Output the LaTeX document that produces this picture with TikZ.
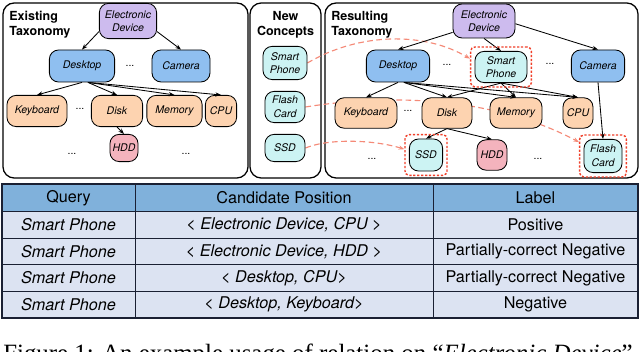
\documentclass[tikz,border=0pt]{standalone}
\usepackage{fontspec}
\setmainfont{Liberation Serif}
\setsansfont{TeX Gyre Heros}
\usetikzlibrary{arrows.meta,fit}

\definecolor{rootpurple}{HTML}{CDBBEE}
\definecolor{midblue}{HTML}{8FBFF0}
\definecolor{leaforange}{HTML}{FDD3B0}
\definecolor{hddpink}{HTML}{F4B3BD}
\definecolor{newcyan}{HTML}{CCF3F3}
\definecolor{linksalmon}{HTML}{F58A78}
\definecolor{boxred}{HTML}{F0402A}
\definecolor{headblue}{HTML}{80B1DB}
\definecolor{rowblue}{HTML}{DCE3F2}
\definecolor{gridnavy}{HTML}{1A2033}

\pgfdeclarelayer{panels}
\pgfdeclarelayer{links}
\pgfsetlayers{panels,links,main}

\begin{document}
\begin{tikzpicture}[
    x=0.025cm, y=-0.025cm,
    >={Stealth[length=4pt,width=3pt]},
    concept/.style={rectangle, rounded corners=6.5pt, draw=black, line width=0.6pt, inner sep=1pt, minimum height=0.8cm, align=center, font=\sffamily\itshape\fontsize{7.5}{9.6}\selectfont},
    root/.style={concept, fill=rootpurple},
    mid/.style={concept, fill=midblue},
    leaf/.style={concept, fill=leaforange},
    hdd/.style={concept, fill=hddpink},
    newc/.style={concept, fill=newcyan},
    panel/.style={rectangle, rounded corners=8pt, draw=black, line width=0.9pt, fill=white, minimum height=4.375cm},
    title/.style={font=\sffamily\bfseries\fontsize{8.9}{10.6}\selectfont, align=left, inner sep=0pt},
    gap/.style={font=\sffamily\fontsize{7.5}{9}\selectfont, inner sep=0pt},
    arrow/.style={->, line width=0.6pt, color=black},
    link/.style={->, dash pattern=on 4pt off 2.5pt, line width=0.8pt, color=linksalmon},
    newbox/.style={rectangle, rounded corners=3pt, draw=boxred, dash pattern=on 1.6pt off 1.2pt, line width=1pt, inner sep=2.8pt},
    cell/.style={font=\sffamily\fontsize{11.5}{13}\selectfont, inner sep=0pt}
]

\clip (0,0) rectangle (640,352);

% Three panels behind everything
\begin{pgfonlayer}{panels}
    \node[panel, minimum width=6.125cm] (existing-bg) at (125.5,90.5) {};
    \node[panel, minimum width=1.775cm] (concepts-bg) at (285.5,90.5) {};
    \node[panel, minimum width=7.825cm] (resulting-bg) at (481.5,90.5) {};
\end{pgfonlayer}

% Panel titles
\node[title, anchor=north west] (existing-title) at (9,11) {Existing\\Taxonomy};
\node[title, align=center, anchor=north] (concepts-title) at (285.5,11) {New\\Concepts};
\node[title, anchor=north west] (resulting-title) at (331,11) {Resulting\\Taxonomy};

% Existing taxonomy
\node[root, minimum width=1.43cm, minimum height=0.88cm] (l-root) at (128,21) {Electronic\\Device};
\node[mid, minimum width=1.63cm] (l-desk) at (82,66) {Desktop};
\node[mid, minimum width=1.45cm] (l-cam) at (181,66) {Camera};
\node[leaf, minimum width=1.5cm, minimum height=0.78cm] (l-key) at (37,111) {Keyboard};
\node[leaf, minimum width=1.28cm, minimum height=0.78cm] (l-disk) at (117,111) {Disk};
\node[leaf, minimum width=1.38cm, minimum height=0.78cm] (l-mem) at (174.5,111) {Memory};
\node[leaf, minimum width=0.78cm, minimum height=0.78cm] (l-cpu) at (221,111) {CPU};
\node[hdd, minimum width=0.7cm, minimum height=0.68cm] (l-hdd) at (124,148) {HDD};

\node[gap] (l-dots1) at (130,66) {...};
\node[gap] (l-dots2) at (80,109) {...};
\node[gap] (l-dots3) at (72,154) {...};
\node[gap] (l-dots4) at (186,154) {...};

\draw[arrow] (l-root.200) -- (l-desk.north);
\draw[arrow] (l-root.-20) -- (l-cam.north);
\draw[arrow] (l-desk.south) -- (l-key.north);
\draw[arrow] (l-desk.-70) -- (l-disk.north);
\draw[arrow] (l-desk.-70) -- (l-mem.north);
\draw[arrow] (l-desk.-70) -- (l-cpu.north);
\draw[arrow] (l-disk.south) -- (l-hdd.north);

% New concepts
\node[newc, minimum width=1.1cm, minimum height=0.83cm] (n-phone) at (285,63) {Smart\\Phone};
\node[newc, minimum width=1.0cm, minimum height=0.78cm] (n-flash) at (285,107) {Flash\\Card};
\node[newc, minimum width=1.0cm, minimum height=0.68cm] (n-ssd) at (285,148) {SSD};

% Resulting taxonomy
\node[root, minimum width=1.55cm, minimum height=0.85cm] (r-root) at (484,21) {Electronic\\Device};
\node[mid, minimum width=1.58cm] (r-desk) at (398,66) {Desktop};
\node[newc, minimum width=1.3cm, minimum height=0.78cm] (r-phone) at (501,67) {Smart\\Phone};
\node[mid, minimum width=1.33cm] (r-cam) at (598,66) {Camera};
\node[leaf, minimum width=1.55cm, minimum height=0.76cm] (r-key) at (366,113) {Keyboard};
\node[leaf, minimum width=1.25cm, minimum height=0.76cm] (r-disk) at (447,113) {Disk};
\node[leaf, minimum width=1.3cm, minimum height=0.76cm] (r-mem) at (516,113) {Memory};
\node[leaf, minimum width=0.75cm, minimum height=0.76cm] (r-cpu) at (578,113) {CPU};
\node[newc, minimum width=0.83cm] (r-ssd) at (426,155) {SSD};
\node[hdd, minimum width=0.75cm, minimum height=0.76cm] (r-hdd) at (492,155) {HDD};
\node[newc, minimum width=0.95cm, minimum height=0.83cm] (r-flash) at (603,156) {Flash\\Card};

\node[gap] (r-dots1) at (447,65) {...};
\node[gap] (r-dots2) at (550,64) {...};
\node[gap] (r-dots3) at (408,111) {...};
\node[gap] (r-dots4) at (372,159) {...};
\node[gap] (r-dots5) at (538,159) {...};

\draw[arrow] (r-root.200) -- (r-desk.north);
\draw[arrow] (r-root.south) -- (r-phone.north);
\draw[arrow] (r-root.-5) -- (r-cam.north);
\draw[arrow] (r-desk.south) -- (r-key.north);
\draw[arrow] (r-desk.-70) -- (r-disk.north);
\draw[arrow] (r-desk.-70) -- (r-mem.north);
\draw[arrow] (r-desk.-70) -- (r-cpu.north);
\draw[arrow] (r-phone.south) -- (r-disk.north);
\draw[arrow] (r-phone.south) -- (r-mem.north);
\draw[arrow] (r-phone.south) -- (r-cpu.north);
\draw[arrow] (r-disk.south) -- (r-ssd.north);
\draw[arrow] (r-disk.south) -- (r-hdd.north);
\draw[arrow] (r-cam.south) -- (r-flash.north);

% Inserted positions
\node[newbox, fit=(r-phone)] (phone-box) {};
\node[newbox, fit=(r-ssd)] (ssd-box) {};
\node[newbox, fit=(r-flash)] (flash-box) {};

% Where the new concepts go
\begin{pgfonlayer}{links}
    \draw[link] (n-phone.east) .. controls (360,32) and (425,32) .. (phone-box.165);
    \draw[link] (n-flash.east) .. controls (400,92) and (500,100) .. (flash-box.150);
    \draw[link] (n-ssd.east) .. controls (330,138) and (375,140) .. (ssd-box.165);
\end{pgfonlayer}

% Table
\fill[headblue] (2,184) rectangle (638,211.5);
\fill[rowblue] (2,211.5) rectangle (638,318);
\foreach \y in {211.5,238.1,264.7,291.3}
    \draw[gridnavy, line width=0.6pt] (2,\y) -- (638,\y);
\draw[gridnavy, line width=0.6pt] (135,184) -- (135,318) (433,184) -- (433,318);
\draw[gridnavy, line width=0.9pt] (2,184) rectangle (638,318);

\node[cell] (h-query) at (68.5,198) {Query};
\node[cell] (h-cand) at (284,198) {Candidate Position};
\node[cell] (h-label) at (535.5,198) {Label};

\foreach \q/\cand/\lab [count=\i] in {
    Smart Phone/{< Electronic Device, CPU >}/Positive,
    Smart Phone/{< Electronic Device, HDD >}/Partially-correct Negative,
    Smart Phone/{< Desktop, CPU>}/Partially-correct Negative,
    Smart Phone/{< Desktop, Keyboard>}/Negative} {
    \pgfmathsetmacro{\ry}{224.8+(\i-1)*26.6}
    \node[cell] (q-\i) at (68.5,\ry) {\itshape\q};
    \node[cell] (c-\i) at (284,\ry) {\itshape\cand};
    \node[cell] (lab-\i) at (535.5,\ry) {\lab};
}

% Caption, cut by the page edge
\node[font=\rmfamily\fontsize{17.7}{20}\selectfont, anchor=base west, inner sep=0pt] (caption) at (3,362) {Figure 1: An example usage of relation on “\textit{Electronic Device}”};

\end{tikzpicture}
\end{document}
